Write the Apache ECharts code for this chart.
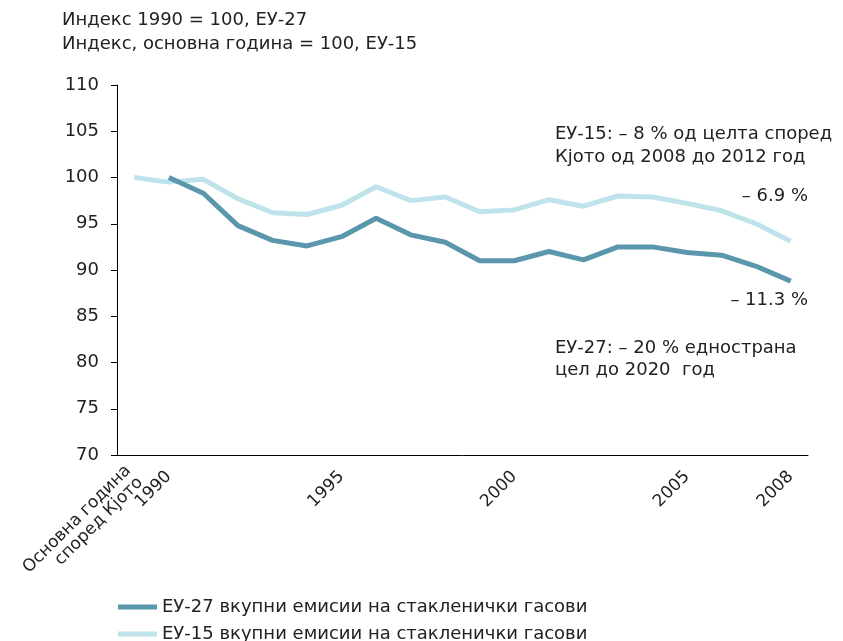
<!DOCTYPE html>
<html>
<head>
<meta charset="utf-8">
<script src="https://cdn.jsdelivr.net/npm/echarts@6/dist/echarts.min.js"></script>
<style>html,body{margin:0;padding:0;background:#fff;}#c{width:843px;height:641px;}</style>
</head>
<body>
<div id="c"></div>
<script>
var categories = ['Основна година\nспоред Кјото', '1990', '1991', '1992', '1993', '1994', '1995', '1996', '1997', '1998', '1999', '2000', '2001', '2002', '2003', '2004', '2005', '2006', '2007', '2008'];
var shownLabels = ['Основна година\nспоред Кјото', '1990', '1995', '2000', '2005', '2008'];
var eu27 = [null, 100, 98.3, 94.8, 93.2, 92.6, 93.6, 95.6, 93.8, 93.0, 91.0, 91.0, 92.0, 91.1, 92.5, 92.5, 91.9, 91.6, 90.4, 88.8];
var eu15 = [100, 99.5, 99.8, 97.7, 96.2, 96.0, 97.0, 99.0, 97.5, 97.9, 96.3, 96.5, 97.6, 96.9, 98.0, 97.9, 97.2, 96.4, 95.0, 93.1];
var yTicks = [70, 75, 80, 85, 90, 95, 100, 105, 110];
var seriesNames = ['ЕУ-27 вкупни емисии на стакленички гасови', 'ЕУ-15 вкупни емисии на стакленички гасови'];
var titleLines = ['Индекс 1990 = 100, ЕУ-27', 'Индекс, основна година = 100, ЕУ-15'];

var FONT = '"DejaVu Sans", Verdana, sans-serif';
var FS = 18;
var chart = echarts.init(document.getElementById('c'));
function legendFor(name, top) {
  return {
    orient: 'vertical', left: 113, top: top,
    itemWidth: 39, itemHeight: 5, icon: 'rect',
    textStyle: { fontFamily: FONT, fontSize: FS, color: '#222' },
    data: [name]
  };
}
chart.setOption({
  animation: false,
  textStyle: { fontFamily: FONT },
  title: {
    text: titleLines.join('\n'),
    left: 62, top: 8, padding: 0,
    textStyle: { fontFamily: FONT, fontSize: FS, fontWeight: 'normal', color: '#222', lineHeight: 24 }
  },
  grid: { left: 117, right: 35, top: 85, bottom: 186, containLabel: false },
  xAxis: {
    type: 'category',
    data: categories,
    boundaryGap: true,
    axisLine: { lineStyle: { color: '#000', width: 1 } },
    axisTick: { interval: 0, length: 5, lineStyle: { color: '#000' } },
    axisLabel: {
      interval: 0, rotate: 45, color: '#222', fontSize: 17, fontFamily: FONT, margin: 19, lineHeight: 17,
      formatter: function (v) { return shownLabels.indexOf(v) >= 0 ? v : ''; }
    },
    splitLine: { show: false }
  },
  yAxis: {
    type: 'value',
    min: yTicks[0], max: yTicks[yTicks.length - 1], interval: 5,
    axisLine: { show: true, lineStyle: { color: '#000', width: 1 } },
    axisTick: { show: true, length: 6, lineStyle: { color: '#000' } },
    axisLabel: { color: '#222', fontSize: FS, fontFamily: FONT, margin: 18 },
    splitLine: { show: false }
  },
  legend: [legendFor(seriesNames[0], 593), legendFor(seriesNames[1], 620)],
  series: [
    { name: seriesNames[0], type: 'line', data: eu27, showSymbol: false, symbol: 'none',
      lineStyle: { color: '#5a96ac', width: 5 }, itemStyle: { color: '#5a96ac' }, z: 3 },
    { name: seriesNames[1], type: 'line', data: eu15, showSymbol: false, symbol: 'none',
      lineStyle: { color: '#bfe3eb', width: 5 }, itemStyle: { color: '#bfe3eb' }, z: 2 }
  ],
  graphic: [
    { type: 'text', left: 555, top: 123, style: { text: 'ЕУ-15: – 8 % од целта според\nКјото од 2008 до 2012 год', fill: '#222', font: FS + 'px ' + FONT, lineHeight: 23 } },
    { type: 'text', right: 35, top: 187, style: { text: '– 6.9 %', fill: '#222', font: FS + 'px ' + FONT } },
    { type: 'text', right: 35, top: 291, style: { text: '– 11.3 %', fill: '#222', font: FS + 'px ' + FONT } },
    { type: 'text', left: 555, top: 337, style: { text: 'ЕУ-27: – 20 % еднострана\nцел до 2020  год', fill: '#222', font: FS + 'px ' + FONT, lineHeight: 22 } }
  ]
});
</script>
</body>
</html>
